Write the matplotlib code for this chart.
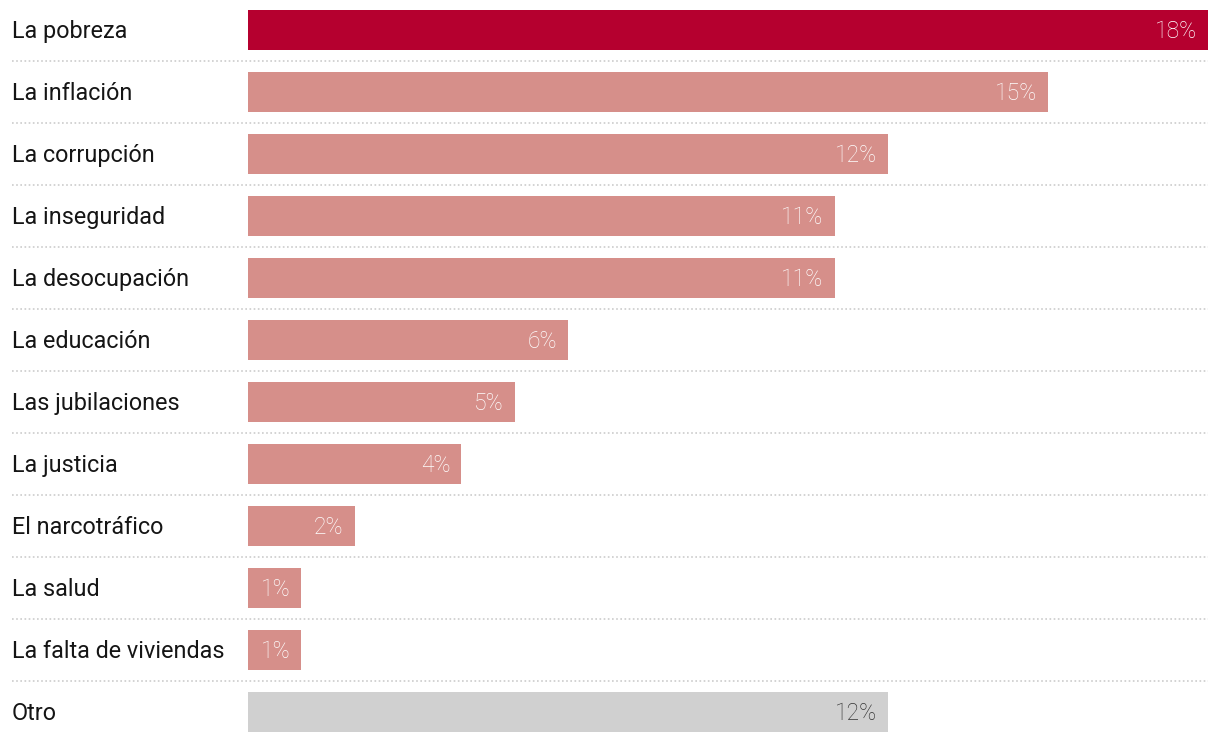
import matplotlib
matplotlib.use("Agg")
import matplotlib.pyplot as plt
from matplotlib.transforms import blended_transform_factory

categories = ["La pobreza", "La inflación", "La corrupción", "La inseguridad",
              "La desocupación", "La educación", "Las jubilaciones", "La justicia",
              "El narcotráfico", "La salud", "La falta de viviendas", "Otro"]
values = [18, 15, 12, 11, 11, 6, 5, 4, 2, 1, 1, 12]
value_labels = ["18%", "15%", "12%", "11%", "11%", "6%", "5%", "4%", "2%", "1%", "1%", "12%"]

W, H = 1220, 742
fig = plt.figure(figsize=(W / 100, H / 100), dpi=100)
ax = fig.add_axes([248 / W, 0, 960 / W, 1])
ax.set_xlim(0, 18)
n = len(categories)
ax.set_ylim((H - 30) / 62, -30 / 62)
ax.axis("off")

colors = []
for i in range(n):
    if i == 0:
        colors.append("#B5002F")
    elif categories[i] == "Otro":
        colors.append("#D0D0D0")
    else:
        colors.append("#D68F8A")

ys = list(range(n))
ax.barh(ys, values, height=40 / 62, color=colors, linewidth=0)

tr = blended_transform_factory(fig.transFigure, ax.transData)
for i, (c, v, lab) in enumerate(zip(categories, values, value_labels)):
    fig.text(12 / W, i + 0.03, c, transform=tr, ha="left", va="center",
             fontsize=16.8, family="Roboto", color="#151515")
    ax.text(v - 11 / 53.33, i + 0.03, lab, ha="right", va="center",
            fontsize=16.5, family="Roboto", fontweight="light",
            color="#333333" if c == "Otro" else "white")

for i in range(n - 1):
    ax.plot([12 / W, 1208 / W], [i + 0.5, i + 0.5], transform=tr,
            color="#cccccc", linestyle=(0, (1, 1.5)), linewidth=1.2, clip_on=False)

fig.savefig("out.png", dpi=100)
